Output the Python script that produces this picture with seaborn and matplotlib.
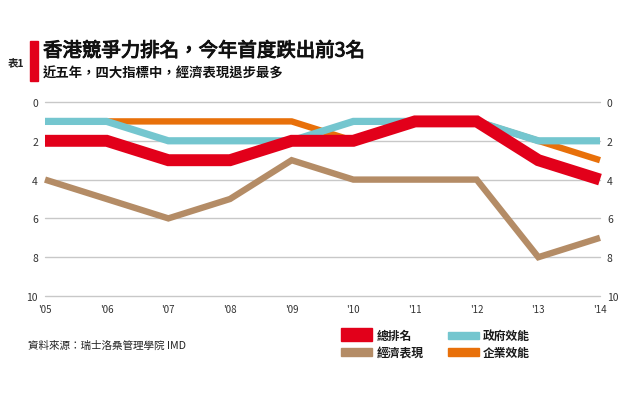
import matplotlib
matplotlib.use("Agg")
import matplotlib.pyplot as plt
import matplotlib.patheffects as pe
import seaborn as sns
import pandas as pd
from matplotlib.patches import Rectangle

years = ["'05", "'06", "'07", "'08", "'09", "'10", "'11", "'12", "'13", "'14"]
overall = [2, 2, 3, 3, 2, 2, 1, 1, 3, 4]
government = [1, 1, 2, 2, 2, 1, 1, 1, 2, 2]
business = [1, 1, 1, 1, 1, 2, 1, 1, 2, 3]
economic = [4, 5, 6, 5, 3, 4, 4, 4, 8, 7]
y_ticks = [0, 2, 4, 6, 8, 10]

colors = {"總排名": "#E2001A", "政府效能": "#74C6CF", "經濟表現": "#B48C66", "企業效能": "#E8700A"}
widths = {"總排名": 8.6, "政府效能": 5.2, "經濟表現": 4.6, "企業效能": 4.6}

sns.set_theme(style="white")
plt.rcParams['font.family'] = ['Noto Sans CJK TC', 'DejaVu Sans']

fig = plt.figure(figsize=(6.25, 4.06), dpi=100)
fig.patch.set_facecolor("white")
W, H = 625, 406
ax = fig.add_axes([45 / W, 1 - 297 / H, 555 / W, 194 / H])

idx = list(range(len(years)))
series = [("經濟表現", economic), ("企業效能", business), ("政府效能", government), ("總排名", overall)]
for name, vals in series:
    df = pd.DataFrame({"x": idx, "y": vals})
    sns.lineplot(data=df, x="x", y="y", ax=ax, color=colors[name], linewidth=widths[name],
                 solid_capstyle="butt", solid_joinstyle="miter", clip_on=False, zorder=3)

for t in y_ticks:
    ax.axhline(t, color="#C8C8C8", linewidth=1.0, zorder=1, clip_on=False)

ax.set_xlim(0, len(years) - 1)
ax.set_ylim(10, 0)
for s in ax.spines.values():
    s.set_visible(False)
ax.set_xticks(idx)
ax.set_xticklabels(years, fontsize=7, color="#333333")
ax.set_yticks(y_ticks)
ax.set_yticklabels([str(t) for t in y_ticks], fontsize=7.5, color="#333333")
ax.tick_params(axis="both", length=0, pad=6)
ax.tick_params(axis="y", labelleft=True, labelright=True, pad=5)
ax.tick_params(axis="x", pad=6)
ax.set_xlabel("")
ax.set_ylabel("")
ax.set_facecolor("white")

# Title block
fig.patches.append(Rectangle((30 / W, 1 - 82 / H), 8 / W, 40 / H, transform=fig.transFigure,
                             color="#E2001A", zorder=5))
fig.text(8 / W, 1 - 63 / H, "表1", fontsize=7.5, fontweight="bold", color="#222222", va="center")
fig.text(43 / W, 1 - 52 / H, "香港競爭力排名，今年首度跌出前3名", fontsize=14, color="#111111",
         va="center", fontweight="normal",
         path_effects=[pe.withStroke(linewidth=0.7, foreground="#111111")])
fig.text(43 / W, 1 - 74 / H, "近五年，四大指標中，經濟表現退步最多", fontsize=9.6, color="#111111",
         va="center", fontweight="bold")

# Source
fig.text(28 / W, 1 - 346 / H, "資料來源：瑞士洛桑管理學院 IMD", fontsize=7.6, color="#222222", va="center")

# Legend
legend_items = [
    ("總排名", 341, 329, 13, 377, 336),
    ("經濟表現", 341, 349, 8, 377, 353),
    ("政府效能", 448, 333, 7, 483, 336),
    ("企業效能", 448, 349, 8, 483, 353),
]
for name, x0, y0, h, tx, ty in legend_items:
    fig.patches.append(Rectangle((x0 / W, 1 - (y0 + h) / H), 31 / W, h / H, transform=fig.transFigure,
                                 color=colors[name], zorder=5))
    fig.text(tx / W, 1 - ty / H, name, fontsize=8.5, fontweight="bold", color="#1a1a1a", va="center")

fig.savefig("out.png", dpi=100, facecolor="white")
